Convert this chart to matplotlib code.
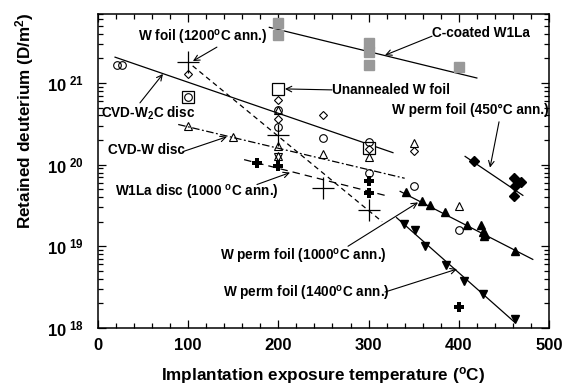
import matplotlib
matplotlib.use('Agg')
import matplotlib.pyplot as plt
from matplotlib.ticker import MultipleLocator, LogLocator, NullFormatter, FixedLocator, FixedFormatter

plt.rcParams['font.family'] = 'Liberation Sans'
plt.rcParams['font.weight'] = 'bold'
plt.rcParams['mathtext.fontset'] = 'custom'
plt.rcParams['mathtext.rm'] = 'Liberation Sans:bold'
plt.rcParams['mathtext.bf'] = 'Liberation Sans:bold'
plt.rcParams['mathtext.it'] = 'Liberation Sans:bold'

# C-coated W1La (grey squares)
ccoat_t = [200, 200, 300, 300, 300, 400]
ccoat_d = [5.4e21, 3.85e21, 3.1e21, 2.4e21, 1.66e21, 1.57e21]

# W foil (1200 C ann.) big thin plus
wfoil_t = [100, 200, 250, 300]
wfoil_d = [1.8e21, 2.3e20, 5.1e19, 2.8e19]

# W1La disc (1000 C ann.) bold plus
w1la_t = [176, 200, 300, 300, 400]
w1la_d = [1.05e20, 9.5e19, 6.3e19, 4.55e19, 1.8e18]

# open symbols
circ_t = [21, 27, 100, 200, 200, 250, 300, 300, 350, 400]
circ_d = [1.66e21, 1.66e21, 6.7e20, 4.7e20, 2.9e20, 2.1e20, 1.9e20, 7.9e19, 5.5e19, 1.6e19]
diam_t = [100, 200, 200, 250, 300, 350]
diam_d = [1.3e21, 6.2e20, 3.6e20, 4.1e20, 1.55e20, 1.45e20]
tri_t = [100, 150, 200, 200, 200, 250, 300, 350, 400]
tri_d = [3.0e20, 2.2e20, 4.7e20, 1.7e20, 1.29e20, 1.35e20, 1.25e20, 1.85e20, 3.1e19]
tridn_t = [200]
tridn_d = [1.25e20]
sq_t = [100, 200, 300]
sq_d = [6.7e20, 8.5e20, 1.6e20]

# W perm foil series
perm1000_t = [341, 359, 368, 385, 409, 425, 427, 428, 429, 462]
perm1000_d = [4.6e19, 3.55e19, 3.2e19, 2.6e19, 1.8e19, 1.8e19, 1.5e19, 1.35e19, 1.4e19, 8.7e18]
perm1400_t = [339, 352, 362, 386, 406, 427, 462]
perm1400_d = [1.87e19, 1.6e19, 1.0e19, 5.9e18, 3.7e18, 2.6e18, 1.3e18]
perm450_t = [417, 461, 469, 462, 461]
perm450_d = [1.12e20, 6.8e19, 6.2e19, 5.4e19, 4.1e19]

# trend lines (endpoints)
line_ccoat = ([190, 420], [4.8e21, 1.15e21])
line_wfoil = ([105, 315], [1.62e21, 2.0e19])
line_w2c = ([19, 327], [2.07e21, 1.4e20])
line_cvdw = ([89, 340], [3.1e20, 6.8e19])
line_w1la = ([162, 318], [1.15e20, 4.2e19])
line_p1000 = ([335, 482], [4.7e19, 6.9e18])
line_p1400 = ([331, 462], [2.24e19, 1.17e18])
line_p450 = ([407, 471], [1.26e20, 4.2e19])

fig = plt.figure(figsize=(5.66, 3.88), dpi=100)
ax = fig.add_axes([0.173, 0.155, 0.797, 0.809])

lw = 0.9
ax.plot(*line_ccoat, color='black', lw=lw)
ax.plot(*line_wfoil, color='black', lw=lw, dashes=(4, 3))
ax.plot(*line_w2c, color='black', lw=lw)
ax.plot(*line_cvdw, color='black', lw=lw, dashes=(6, 2, 1.5, 2))
ax.plot(*line_w1la, color='black', lw=lw, dashes=(6, 4))
ax.plot(*line_p1000, color='black', lw=lw)
ax.plot(*line_p1400, color='black', lw=lw)
ax.plot(*line_p450, color='black', lw=lw)

ax.plot(ccoat_t, ccoat_d, 's', color='#999999', ms=6.5, ls='none')
ax.plot(sq_t, sq_d, 's', mfc='white', mec='black', ms=8, mew=0.9, ls='none')
ax.plot(circ_t, circ_d, 'o', mfc='none', mec='black', ms=5.5, mew=0.8, ls='none')
ax.plot(diam_t, diam_d, 'D', mfc='none', mec='black', ms=4.5, mew=0.8, ls='none')
ax.plot(tri_t, tri_d, '^', mfc='none', mec='black', ms=5.5, mew=0.8, ls='none')
ax.plot(tridn_t, tridn_d, 'v', mfc='none', mec='black', ms=5.5, mew=0.8, ls='none')
ax.plot(wfoil_t, wfoil_d, '+', color='black', ms=16, mew=0.9, ls='none')
ax.plot(w1la_t, w1la_d, 'P', color='black', ms=7, mew=0, ls='none')
ax.plot(perm1000_t, perm1000_d, '^', color='black', ms=6, ls='none')
ax.plot(perm1400_t, perm1400_d, 'v', color='black', ms=6, ls='none')
ax.plot(perm450_t, perm450_d, 'D', color='black', ms=5, ls='none')

ax.set_yscale('log')
ax.set_xlim(0, 500)
ax.set_ylim(1e18, 7e21)

ax.xaxis.set_major_locator(MultipleLocator(100))
ax.xaxis.set_minor_locator(MultipleLocator(20))
ax.yaxis.set_major_locator(FixedLocator([1e18, 1e19, 1e20, 1e21]))
ax.yaxis.set_major_formatter(FixedFormatter([r'10$^{\ 18}$', r'10$^{\ 19}$', r'10$^{\ 20}$', r'10$^{\ 21}$']))
ax.yaxis.set_minor_locator(LogLocator(base=10, subs=range(2, 10)))
ax.yaxis.set_minor_formatter(NullFormatter())
ax.tick_params(which='both', direction='in', top=True, right=True, width=0.9)
ax.tick_params(which='major', length=6, labelsize=12)
ax.tick_params(which='minor', length=3.5)
ax.tick_params(axis='x', pad=7)
ax.tick_params(axis='y', pad=10)
for s in ax.spines.values():
    s.set_linewidth(1.1)

ax.set_xlabel('Implantation exposure temperature ($^{\\rm o}$C)', fontsize=12.3, fontweight='bold', labelpad=9)
ax.set_ylabel('Retained deuterium (D/m$^{2}$)', fontsize=12.3, fontweight='bold',
              family=['Liberation Sans Narrow', 'Liberation Sans'])
ax.yaxis.set_label_coords(-0.137, 0.66)

fs = 9.8
labels = [
    ('W foil (1200$^{\\rm o}$C ann.)', (116.4, 10**21.561), (131.9, 10**21.439), (105.3, 10**21.268), 'center'),
    ('C-coated W1La', (424.6, 10**21.61), (370.3, 10**21.573), (318.2, 10**21.34), 'center'),
    ('Unannealed W foil', (259.4, 10**20.915), (259.4, 10**20.915), (207.3, 10**20.927), 'left'),
    ('CVD-W$_{2}$C disc', (55.4, 10**20.634), (46.6, 10**20.756), (72.1, 10**21.11), 'center'),
    ('CVD-W disc', (54.3, 10**20.183), (94.2, 10**20.159), (143.0, 10**20.341), 'center'),
    ('W1La disc (1000 $^{\\rm o}$C ann.)', (109.8, 10**19.659), (176.3, 10**19.756), (212.9, 10**19.902), 'center'),
    ('W perm foil (450\u00b0C ann.)', (412.4, 10**20.671), (444.6, 10**20.524), (434.6, 10**19.963), 'center'),
    ('W perm foil (1000$^{\\rm o}$C ann.)', (227.3, 10**18.878), (277.2, 10**19.0), (354.8, 10**19.537), 'center'),
    ('W perm foil (1400$^{\\rm o}$C ann.)', (230.6, 10**18.415), (318.2, 10**18.439), (398.0, 10**18.72), 'center'),
]
for txt, pos, tail, head, ha in labels:
    ax.annotate('', xy=head, xytext=tail,
                arrowprops=dict(arrowstyle='->', lw=0.8, color='black',
                                shrinkA=0, shrinkB=0, mutation_scale=10))
    ax.text(pos[0], pos[1], txt, fontsize=fs, fontweight='bold', ha=ha, va='center')

fig.savefig('out.png', dpi=100)
